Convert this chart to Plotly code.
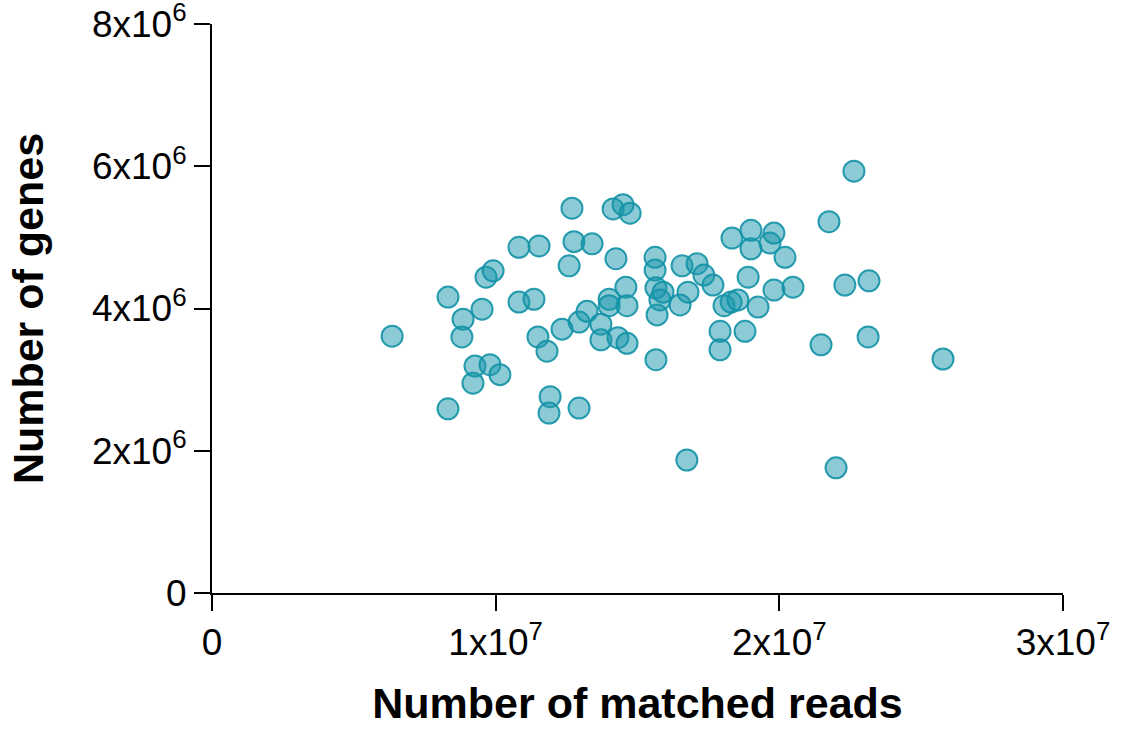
import plotly.graph_objects as go

# Number of matched reads (x) and number of genes (y), one entry per sample
matched_reads = [
    6.35e6, 8.32e6, 8.32e6, 8.85e6, 8.81e6, 9.20e6, 9.27e6, 9.52e6, 9.66e6, 9.91e6,
    9.80e6, 10.15e6, 10.82e6, 10.82e6, 11.35e6, 11.53e6, 11.49e6, 11.81e6, 11.92e6, 11.88e6,
    12.34e6, 12.59e6, 12.69e6, 12.76e6, 12.94e6, 12.94e6, 13.22e6, 13.40e6, 13.71e6, 13.71e6,
    14.00e6, 14.00e6, 14.14e6, 14.24e6, 14.31e6, 14.49e6, 14.59e6, 14.63e6, 14.63e6, 14.74e6,
    15.62e6, 15.62e6, 15.65e6, 15.69e6, 15.65e6, 15.79e6, 15.90e6, 16.50e6, 16.57e6, 16.74e6,
    16.78e6, 17.10e6, 17.34e6, 17.66e6, 17.91e6, 17.91e6, 18.05e6, 18.33e6, 18.30e6, 18.54e6,
    18.79e6, 18.90e6, 19.00e6, 19.00e6, 19.25e6, 19.67e6, 19.81e6, 19.81e6, 20.20e6, 20.48e6,
    21.47e6, 21.75e6, 22.00e6, 22.31e6, 22.63e6, 23.13e6, 23.16e6, 25.77e6,
]
num_genes = [
    3.61e6, 2.59e6, 4.16e6, 3.85e6, 3.60e6, 2.95e6, 3.19e6, 3.99e6, 4.44e6, 4.53e6,
    3.21e6, 3.07e6, 4.86e6, 4.09e6, 4.13e6, 4.88e6, 3.60e6, 3.40e6, 2.76e6, 2.53e6,
    3.71e6, 4.60e6, 5.41e6, 4.94e6, 3.81e6, 2.60e6, 3.96e6, 4.91e6, 3.78e6, 3.56e6,
    4.13e6, 4.04e6, 5.40e6, 4.70e6, 3.59e6, 5.46e6, 4.30e6, 4.04e6, 3.51e6, 5.34e6,
    4.72e6, 4.54e6, 4.29e6, 3.91e6, 3.28e6, 4.12e6, 4.23e6, 4.05e6, 4.60e6, 1.87e6,
    4.23e6, 4.63e6, 4.47e6, 4.33e6, 3.68e6, 3.42e6, 4.04e6, 4.99e6, 4.09e6, 4.12e6,
    3.68e6, 4.44e6, 5.10e6, 4.84e6, 4.02e6, 4.92e6, 5.06e6, 4.26e6, 4.72e6, 4.30e6,
    3.49e6, 5.22e6, 1.76e6, 4.33e6, 5.93e6, 3.60e6, 4.39e6, 3.29e6,
]

x_tickvals = [0, 1e7, 2e7, 3e7]
x_ticktext = ["0", "1x10<sup>7</sup>", "2x10<sup>7</sup>", "3x10<sup>7</sup>"]
y_tickvals = [0, 2e6, 4e6, 6e6, 8e6]
y_ticktext = ["0", "2x10<sup>6</sup>", "4x10<sup>6</sup>", "6x10<sup>6</sup>", "8x10<sup>6</sup>"]

x_title = "Number of matched reads"
y_title = "Number of genes"

fig = go.Figure()
fig.add_trace(go.Scatter(
    x=matched_reads, y=num_genes, mode="markers",
    marker=dict(size=21, color="rgba(25,149,171,0.5)",
                line=dict(color="rgba(18,146,166,0.9)", width=2)),
    cliponaxis=False, showlegend=False,
))

axis_common = dict(
    showline=True, linecolor="black", linewidth=2,
    ticks="outside", ticklen=16, tickwidth=2, tickcolor="black",
    showgrid=False, zeroline=False, automargin=False,
    ticklabeloverflow="allow",
    tickfont=dict(family="Liberation Sans, Arial, sans-serif", size=37, color="black"),
)

fig.update_layout(
    width=1122, height=731,
    margin=dict(l=212, r=59, t=24, b=138),
    paper_bgcolor="white", plot_bgcolor="white",
    xaxis=dict(range=[0, 3e7], tickvals=x_tickvals, ticktext=x_ticktext,
               title=dict(text=x_title, standoff=25,
                          font=dict(family="Liberation Sans, Arial, sans-serif",
                                    size=43, color="black", weight="bold")),
               **axis_common),
    yaxis=dict(range=[0, 8e6], tickvals=y_tickvals, ticktext=y_ticktext,
               title=dict(text=y_title, standoff=35,
                          font=dict(family="Liberation Sans, Arial, sans-serif",
                                    size=43, color="black", weight="bold")),
               **axis_common),
)

# remove the default page margin so the figure fills the window exactly
fig.write_html("out.html",
               config={"displayModeBar": False},
               post_script="document.body.style.margin='0';document.body.style.overflow='hidden';")
